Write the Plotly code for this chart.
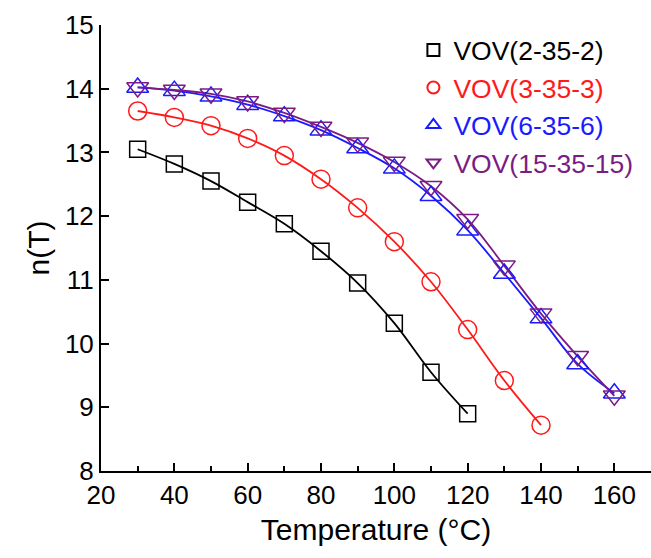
import plotly.graph_objects as go

temps = [30, 40, 50, 60, 70, 80, 90, 100, 110, 120, 130, 140, 150, 160]
n_2_35_2 = [13.05, 12.82, 12.55, 12.22, 11.88, 11.45, 10.95, 10.32, 9.55, 8.90]
n_3_35_3 = [13.65, 13.55, 13.42, 13.22, 12.95, 12.58, 12.13, 11.60, 10.97, 10.22, 9.42, 8.72]
n_6_35_6 = [14.02, 13.97, 13.88, 13.75, 13.57, 13.35, 13.07, 12.75, 12.32, 11.78, 11.10, 10.40, 9.68, 9.22]
n_15_35_15 = [14.02, 13.98, 13.92, 13.80, 13.62, 13.40, 13.15, 12.85, 12.47, 11.95, 11.22, 10.47, 9.80, 9.18]

series = [
    ("VOV(2-35-2)", n_2_35_2, "#000000", "square-open", 16),
    ("VOV(3-35-3)", n_3_35_3, "#ff1a1a", "circle-open", 18),
    ("VOV(6-35-6)", n_6_35_6, "#1a1aff", "triangle-up-open", 19),
    ("VOV(15-35-15)", n_15_35_15, "#7b1c84", "triangle-down-open", 19),
]

fig = go.Figure()
for name, vals, color, sym, size in series:
    x = temps[:len(vals)]
    fig.add_trace(go.Scatter(x=x, y=vals, mode="lines", line=dict(color=color, width=1.8, shape="spline"),
                             showlegend=False, hoverinfo="skip"))
for name, vals, color, sym, size in series:
    x = temps[:len(vals)]
    fig.add_trace(go.Scatter(x=x, y=vals, mode="markers",
                             marker=dict(symbol=sym, size=size, color=color, line=dict(width=1.5, color=color)),
                             name=f"<span style='color:{color}'>{name}</span>"))

fig.update_layout(
    width=651, height=558,
    margin=dict(l=101, r=0, t=25, b=87),
    plot_bgcolor="white", paper_bgcolor="white",
    font=dict(family="Liberation Sans, Arial, sans-serif", size=26, color="black"),
    legend=dict(x=0.568, y=0.997, xanchor="left", yanchor="top", bgcolor="rgba(0,0,0,0)",
                font=dict(size=26.5), itemsizing="constant", tracegroupgap=0, itemwidth=30),
    xaxis=dict(range=[20, 170], tickvals=[20, 40, 60, 80, 100, 120, 140, 160],
               showline=True, linecolor="black", linewidth=2, ticks="inside", ticklen=8, tickwidth=1.5,
               tickcolor="black", showgrid=False, zeroline=False,
               minor=dict(tickvals=[30, 50, 70, 90, 110, 130, 150, 170], ticks="inside", ticklen=5, tickwidth=1.5, tickcolor="black"),
               title=dict(text="Temperature (°C)", font=dict(size=30), standoff=10),
               tickfont=dict(size=26)),
    yaxis=dict(range=[8, 15], tickvals=[8, 9, 10, 11, 12, 13, 14, 15],
               showline=True, linecolor="black", linewidth=2, ticks="inside", ticklen=8, tickwidth=1.5,
               tickcolor="black", showgrid=False, zeroline=False,
               title=dict(text="n(T)", font=dict(size=30), standoff=6),
               tickfont=dict(size=26)),
)

fig.write_html("out.html")
